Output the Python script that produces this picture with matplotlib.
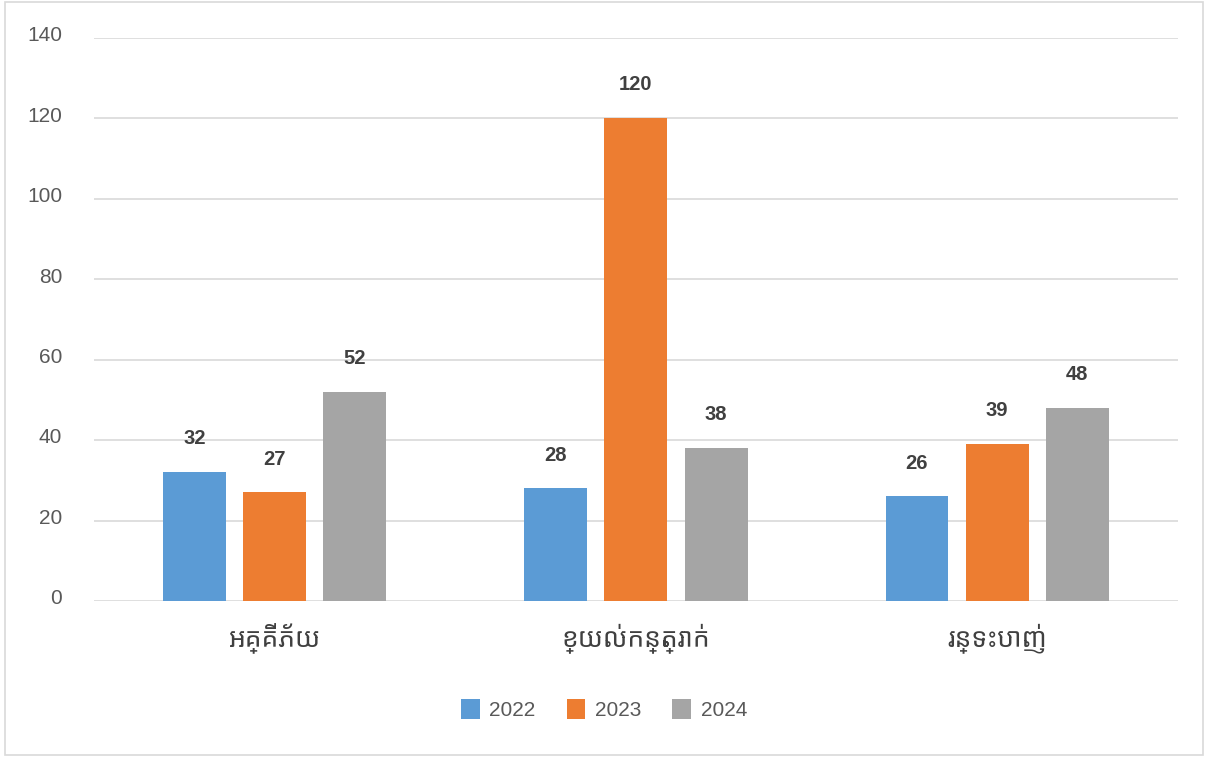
import matplotlib
matplotlib.use("Agg")
import matplotlib.pyplot as plt
from matplotlib.patches import Rectangle
from matplotlib.transforms import ScaledTranslation
import numpy as np

categories = ["អគ្គីភ័យ", "ខ្យល់កន្ត្រាក់", "រន្ទះបាញ់"]
years = ["2022", "2023", "2024"]
v2022 = [32, 28, 26]
v2023 = [27, 120, 39]
v2024 = [52, 38, 48]
colors = ["#5B9BD5", "#ED7D31", "#A5A5A5"]

plt.rcParams['font.family'] = ['Liberation Sans', 'DejaVu Sans']

fig = plt.figure(figsize=(12.08, 7.57), dpi=100)
ax = fig.add_axes([0.0778, 0.206, 0.8972, 0.744])

x = np.arange(len(categories))
width = 0.174
step = 0.222
for i, (vals, col) in enumerate(zip([v2022, v2023, v2024], colors)):
    bars = ax.bar(x + (i - 1) * step, vals, width, color=col, label=years[i], zorder=3)
    for b, v in zip(bars, vals):
        ax.annotate(str(v), (b.get_x() + b.get_width() / 2, v), xytext=(0, 24),
                    textcoords='offset points', ha='center', va='center',
                    fontsize=14.5, color='#404040', fontweight='bold')

ax.set_xlim(-0.5, 2.5)
ax.set_ylim(0, 140)
ax.set_yticks(range(0, 141, 20))
ax.yaxis.grid(True, color='#d9d9d9', linewidth=1.2, zorder=0)
for s in ax.spines.values():
    s.set_visible(False)
ax.tick_params(axis='both', length=0, colors='#595959')
ax.tick_params(axis='y', labelsize=15, pad=23)
ax.set_xticks(x)
ax.set_xticklabels(categories, fontsize=19, color='#404040', fontweight='bold',
                   family=['Noto Sans Khmer', 'Khmer OS', 'DejaVu Sans'])
ax.tick_params(axis='x', pad=16)
# nudge y labels up a few pixels, like the original
for lbl in ax.get_yticklabels():
    lbl.set_transform(lbl.get_transform() + ScaledTranslation(0, 3 / 72, fig.dpi_scale_trans))

leg = fig.legend(loc='center', bbox_to_anchor=(0.5, 0.063), ncol=3, frameon=False,
                 fontsize=15, handlelength=0.9, handleheight=1.1, columnspacing=1.5,
                 handletextpad=0.45)
for t in leg.get_texts():
    t.set_color('#595959')

fig.patches.append(Rectangle((0.004, 0.003), 0.992, 0.994, transform=fig.transFigure,
                             fill=False, edgecolor='#d9d9d9', linewidth=1.2))

fig.savefig("out.png", dpi=100)
